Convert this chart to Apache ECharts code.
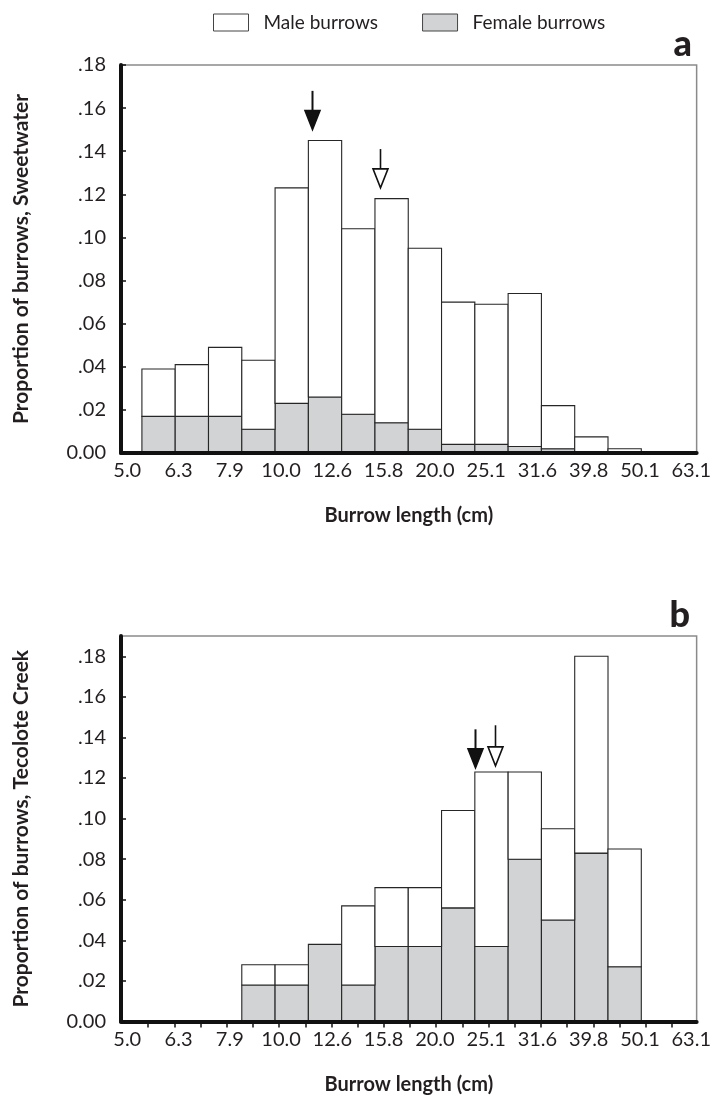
<!DOCTYPE html>
<html>
<head>
<meta charset="utf-8">
<script src="https://cdn.jsdelivr.net/npm/echarts@6/dist/echarts.min.js"></script>
<style>
html,body{margin:0;padding:0;background:#fff;}
#chart{width:714px;height:1098px;}
</style>
</head>
<body>
<div id="chart"></div>
<script>
// ---- data ----
const xTickLabels = ['5.0','6.3','7.9','10.0','12.6','15.8','20.0','25.1','31.6','39.8','50.1','63.1'];
const yTickValues = [0, 0.02, 0.04, 0.06, 0.08, 0.10, 0.12, 0.14, 0.16, 0.18];
const binIndex = [1,2,3,4,5,6,7,8,9,10,11,12,13,14,15];
// panel a: Sweetwater (stacked: female at bottom, male on top)
const sweetFemale = [0.017,0.017,0.017,0.011,0.023,0.026,0.018,0.014,0.011,0.004,0.004,0.003,0.002,0,0];
const sweetMale   = [0.022,0.024,0.032,0.032,0.100,0.119,0.086,0.104,0.084,0.066,0.065,0.071,0.020,0.0075,0.002];
// panel b: Tecolote Creek
const tecoFemale = [0,0,0,0.018,0.018,0.038,0.018,0.037,0.037,0.056,0.037,0.080,0.050,0.083,0.027];
const tecoMale   = [0,0,0,0.010,0.010,0,0.039,0.029,0.029,0.048,0.086,0.043,0.045,0.097,0.058];
// arrows: [position on bin scale, tip value, tail value, filled(1)/open(0)]
const sweetArrows = [[5.73,0.150,0.168,1],[7.78,0.123,0.141,0]];
const tecoArrows  = [[10.62,0.125,0.144,1],[11.22,0.126,0.146,0]];

// ---- axis geometry (bin-scale units) ----
const X_MIN = 0, X_MAX = 17.29;
const FIRST_BIN = 0.628;             // left edge of bin 1
const LABEL0 = 0.188, LABEL_STEP = 1.540;
const labelPos = xTickLabels.map((_, k) => +(LABEL0 + LABEL_STEP * k).toFixed(4));
const minorTicksB = Array.from({length: 21}, (_, k) => +(0.816 + 0.7865 * k).toFixed(4));

const FONT = 'Lato';
const TXT = '#231f20';
const FEMALE_FILL = '#d1d3d4';
const EDGE = '#262626';

function yFmt(v){
  if (Math.abs(v) < 1e-9) return '0.00';
  return '.' + String(Math.round(v * 100)).padStart(2, '0');
}
function xFmt(v){
  const k = labelPos.findIndex(p => Math.abs(p - v) < 1e-3);
  return k >= 0 ? xTickLabels[k] : '';
}

function binRender(fill){
  return function(params, api){
    const i = api.value(0), lo = api.value(1), hi = api.value(2);
    if (hi - lo <= 0) return null;
    const x0 = FIRST_BIN + (i - 1);
    const p0 = api.coord([x0, lo]);
    const p1 = api.coord([x0 + 1, hi]);
    return {
      type: 'rect',
      shape: {x: p0[0], y: p1[1], width: p1[0] - p0[0], height: p0[1] - p1[1]},
      style: {fill: fill, stroke: EDGE, lineWidth: 1.1}
    };
  };
}
function arrowRender(params, api){
  const u = api.value(0), tip = api.value(1), tail = api.value(2), filled = api.value(3);
  const pt = api.coord([u, tip]);
  const pb = api.coord([u, tail]);
  const headLen = 19, halfW = 7.5;
  const x = Math.round(pt[0]) + 0.5;
  return {
    type: 'group',
    children: [
      {type: 'line', shape: {x1: x, y1: pb[1], x2: x, y2: pt[1] - headLen + 1},
       style: {stroke: '#111', lineWidth: filled ? 2 : 1.6}},
      {type: 'polygon', shape: {points: [[x - halfW, pt[1] - headLen], [x + halfW, pt[1] - headLen], [x, pt[1]]]},
       style: {fill: filled ? '#111' : '#fff', stroke: '#111', lineWidth: 1.6, lineJoin: 'miter'}}
    ]
  };
}

function stackData(female, male, which){
  return binIndex.map((b, i) => which === 'f'
    ? [b, 0, female[i]]
    : [b, female[i], female[i] + male[i]]);
}

const grids = [
  {left: 121, right: 15, top: 65, height: 388, show: true, borderColor: '#8a8a8a', borderWidth: 1.5, backgroundColor: '#fff'},
  {left: 121, right: 15, top: 636, height: 385.5, show: true, borderColor: '#8a8a8a', borderWidth: 1.5, backgroundColor: '#fff'}
];

function mainX(gi){
  return {
    type: 'value', gridIndex: gi, min: X_MIN, max: X_MAX, z: 5,
    axisLine: {show: true, onZero: false, lineStyle: {color: '#111', width: 4}},
    axisTick: {show: false},
    splitLine: {show: false},
    axisLabel: {customValues: labelPos, formatter: xFmt, margin: 8, fontSize: 20, color: TXT, fontFamily: FONT},
    name: 'Burrow length (cm)', nameLocation: 'middle', nameGap: 53,
    nameTextStyle: {fontSize: 20, fontWeight: 'bold', color: TXT, fontFamily: FONT}
  };
}
function mainY(gi, max, title){
  return {
    type: 'value', gridIndex: gi, min: 0, max: max, z: 5,
    axisLine: {show: true, lineStyle: {color: '#111', width: 4}},
    axisTick: {show: true, inside: true, length: 5, customValues: yTickValues, lineStyle: {color: '#111', width: 1.5}},
    splitLine: {show: false},
    axisLabel: {customValues: yTickValues, formatter: yFmt, margin: 15, fontSize: 20, color: TXT, fontFamily: FONT},
    name: title, nameLocation: 'middle', nameRotate: 90, nameGap: 89,
    nameTextStyle: {fontSize: 21, fontWeight: 'bold', color: TXT, fontFamily: FONT}
  };
}

const option = {
  animation: false,
  backgroundColor: '#fff',
  textStyle: {fontFamily: FONT},
  title: [
    {text: 'a', right: 17, top: 21, textStyle: {fontSize: 36, fontWeight: 900, color: TXT, fontFamily: FONT}},
    {text: 'b', right: 19, top: 592, textStyle: {fontSize: 36, fontWeight: 900, color: TXT, fontFamily: FONT}}
  ],
  legend: {
    top: 8, left: 208, itemWidth: 35, itemHeight: 17, itemGap: 44, icon: 'rect',
    textStyle: {fontSize: 19, color: TXT, fontFamily: FONT, padding: [0, 0, 0, 10]},
    data: [
      {name: 'Male burrows', itemStyle: {color: '#fff', borderColor: '#444', borderWidth: 1}},
      {name: 'Female burrows', itemStyle: {color: FEMALE_FILL, borderColor: '#444', borderWidth: 1}}
    ],
    selectedMode: false
  },
  grid: grids,
  xAxis: [
    mainX(0),
    mainX(1),
    {type: 'value', gridIndex: 1, min: X_MIN, max: X_MAX, z: 0,
     axisLine: {show: false}, axisLabel: {show: false}, splitLine: {show: false},
     axisTick: {show: true, inside: true, length: 6, customValues: minorTicksB, lineStyle: {color: '#111', width: 1.5}}}
  ],
  yAxis: [
    mainY(0, 0.18, 'Proportion of burrows, Sweetwater'),
    mainY(1, 0.19, 'Proportion of burrows, Tecolote Creek')
  ],
  series: [
    {name: 'Female burrows', type: 'custom', xAxisIndex: 0, yAxisIndex: 0, z: 2,
     itemStyle: {color: FEMALE_FILL}, renderItem: binRender(FEMALE_FILL), data: stackData(sweetFemale, sweetMale, 'f')},
    {name: 'Male burrows', type: 'custom', xAxisIndex: 0, yAxisIndex: 0, z: 2,
     itemStyle: {color: '#fff'}, renderItem: binRender('#fff'), data: stackData(sweetFemale, sweetMale, 'm')},
    {name: 'Female burrows', type: 'custom', xAxisIndex: 1, yAxisIndex: 1, z: 2,
     itemStyle: {color: FEMALE_FILL}, renderItem: binRender(FEMALE_FILL), data: stackData(tecoFemale, tecoMale, 'f')},
    {name: 'Male burrows', type: 'custom', xAxisIndex: 1, yAxisIndex: 1, z: 2,
     itemStyle: {color: '#fff'}, renderItem: binRender('#fff'), data: stackData(tecoFemale, tecoMale, 'm')},
    {name: 'arrowsA', type: 'custom', xAxisIndex: 0, yAxisIndex: 0, z: 3, renderItem: arrowRender, data: sweetArrows},
    {name: 'arrowsB', type: 'custom', xAxisIndex: 1, yAxisIndex: 1, z: 3, renderItem: arrowRender, data: tecoArrows}
  ]
};

const chart = echarts.init(document.getElementById('chart'), null, {renderer: 'canvas'});
chart.setOption(option);
</script>
</body>
</html>
